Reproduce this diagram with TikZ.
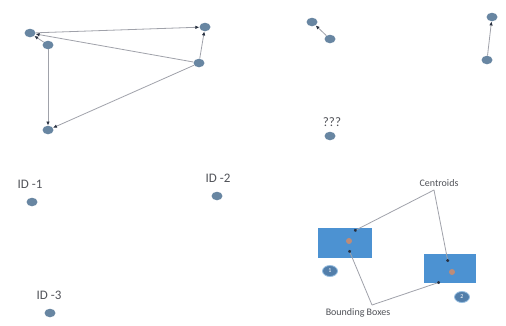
\documentclass[tikz,border=0pt]{standalone}
\usepackage{fontspec}
\setmainfont{Carlito}
\usetikzlibrary{arrows.meta,shapes.geometric}
\definecolor{dotblue}{RGB}{104,134,162}
\definecolor{linkgray}{RGB}{160,162,170}
\definecolor{tipdark}{RGB}{40,48,64}
\definecolor{labelgray}{RGB}{80,82,88}
\definecolor{boxblue}{RGB}{76,146,210}
\definecolor{tagblue}{RGB}{82,126,170}
\definecolor{tagedge}{RGB}{150,190,225}
\definecolor{centorange}{RGB}{190,140,120}
\tikzset{
  pt/.style={ellipse, fill=dotblue, minimum width=11pt, minimum height=8.5pt, inner sep=0pt},
  link/.style={draw=linkgray, line width=0.8pt, -{Latex[length=4pt,width=3.5pt,color=tipdark]}},
  callout/.style={draw=linkgray, line width=0.8pt, -{Circle[length=3pt,color=tipdark]}},
  lbl/.style={font=\fontsize{13}{14}\selectfont, text=labelgray, inner sep=0pt},
  small/.style={font=\fontsize{10}{11}\selectfont, text=labelgray, inner sep=0pt},
  bbox/.style={fill=boxblue, draw=none},
  tag/.style={ellipse, fill=tagblue, draw=tagedge, line width=0.8pt, minimum width=15pt, minimum height=11pt, inner sep=0pt, text=white, font=\fontsize{6}{6}\selectfont},
  cent/.style={circle, fill=centorange, minimum size=6pt, inner sep=0pt}
}
\begin{document}
\begin{tikzpicture}[x=1pt,y=-1pt]
\useasboundingbox (0,0) rectangle (506,325);
\fill[white] (0,0) rectangle (506,325);

% connected group
\node[pt] (a) at (30,33) {};
\node[pt] (b) at (48,45) {};
\node[pt] (c) at (205,27) {};
\node[pt] (d) at (199,63) {};
\node[pt] (e) at (48,130) {};
\draw[link] (b) -- (a);
\draw[link] (d) -- (a);
\draw[link] (a) -- (c);
\draw[link] (d) -- (c);
\draw[link] (b) -- (e);
\draw[link] (d) -- (e);

% short pairs
\node[pt] (f) at (312,22) {};
\node[pt] (g) at (330,39) {};
\draw[link] (g) -- (f);
\node[pt] (h) at (492,17) {};
\node[pt] (i) at (487,60) {};
\draw[link] (i) -- (h);

% labelled points
\node[lbl] (q) at (332,122) {???};
\node[pt] (qp) at (330,136) {};
\node[lbl] (id1) at (30,184) {ID -1};
\node[pt] (p1) at (32,202) {};
\node[lbl] (id2) at (218,178) {ID -2};
\node[pt] (p2) at (217,196) {};
\node[lbl] (id3) at (49,295) {ID -3};
\node[pt] (p3) at (50,313) {};

% bounding boxes with centroids
\fill[bbox] (318,228) rectangle (372,258);
\fill[bbox] (424,254) rectangle (476,283);
\node[cent] (c1) at (349,241) {};
\node[cent] (c2) at (452,272) {};
\node[tag] (t1) at (330,271) {1};
\node[tag] (t2) at (462,297) {2};
\coordinate (b1top) at (354,231);
\coordinate (b1bot) at (349,250);
\coordinate (b2top) at (448,262);
\coordinate (b2bot) at (440,282);

\node[small] (cl) at (439,183) {Centroids};
\node[small] (bl) at (358,313) {Bounding Boxes};
\coordinate (clo) at (434,190);
\coordinate (blo) at (372,305);
\draw[callout] (clo) -- (b1top);
\draw[callout] (clo) -- (b2top);
\draw[callout] (blo) -- (b1bot);
\draw[callout] (blo) -- (b2bot);
\end{tikzpicture}
\end{document}
